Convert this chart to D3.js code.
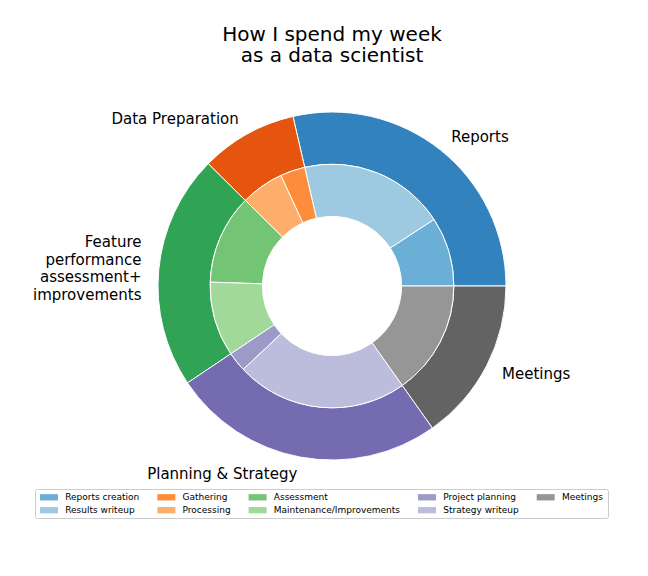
<!DOCTYPE html>
<html>
<head>
<meta charset="utf-8">
<script src="https://cdn.jsdelivr.net/npm/d3@7"></script>
<style>
  html, body { margin: 0; padding: 0; background: #fff; }
  svg { display: block; font-family: "DejaVu Sans", sans-serif; }
</style>
</head>
<body>
<svg id="chart" width="648" height="576"></svg>
<script>
// ---- data ----
const titleLines = ["How I spend my week", "as a data scientist"];
const categories = ["Reports", "Data Preparation", "Feature\nperformance\nassessment+\nimprovements", "Planning & Strategy", "Meetings"];
const categoryValues = [28.6, 9.0, 21.8, 25.4, 15.2];
const categoryColors = ["#3182bd", "#e6550d", "#31a354", "#756bb1", "#636363"];
const subcategories = ["Reports creation", "Results writeup", "Gathering", "Processing", "Assessment", "Maintenance/Improvements", "Project planning", "Strategy writeup", "Meetings"];
const subValues = [9.2, 19.4, 3.3, 5.7, 11.9, 9.9, 2.6, 22.8, 15.2];
const subColors = ["#6baed6", "#9ecae1", "#fd8d3c", "#fdae6b", "#74c476", "#a1d99b", "#9e9ac8", "#bcbddc", "#969696"];

// ---- layout ----
const svg = d3.select("#chart");
const cx = 332, cy = 286, R = 174;

// title (two separate lines)
svg.append("g").selectAll("text").data(titleLines).join("text")
  .attr("x", 332).attr("y", (d, i) => 41.3 + i * 20.8)
  .attr("text-anchor", "middle")
  .attr("font-size", 20).attr("fill", "#000")
  .text(d => d);

const g = svg.append("g").attr("transform", `translate(${cx},${cy})`);

// matplotlib style: start at 3 o'clock, counter-clockwise
const pie = d3.pie().sort(null).value(d => d)
  .startAngle(Math.PI / 2).endAngle(Math.PI / 2 - 2 * Math.PI);

const outerArc = d3.arc().innerRadius(R * 0.7).outerRadius(R);
const innerArc = d3.arc().innerRadius(R * 0.4).outerRadius(R * 0.7);

const outerData = pie(categoryValues);
const innerData = pie(subValues);

g.append("g").selectAll("path").data(outerData).join("path")
  .attr("d", outerArc)
  .attr("fill", (d, i) => categoryColors[i])
  .attr("stroke", "#fff").attr("stroke-width", 1);

g.append("g").selectAll("path").data(innerData).join("path")
  .attr("d", innerArc)
  .attr("fill", (d, i) => subColors[i])
  .attr("stroke", "#fff").attr("stroke-width", 1);

// outer labels at 1.1 R
const labelSize = 15, lineH = 17.5;
outerData.forEach((d, i) => {
  const a = (d.startAngle + d.endAngle) / 2; // d3 angle: 0 at top, clockwise
  const x = Math.sin(a) * R * 1.1;
  const y = -Math.cos(a) * R * 1.1;
  const lines = categories[i].split("\n");
  const t = g.append("text")
    .attr("font-size", labelSize).attr("fill", "#000")
    .attr("text-anchor", x < 0 ? "end" : "start");
  lines.forEach((ln, j) => {
    t.append("tspan")
      .attr("x", x)
      .attr("y", y + (j - (lines.length - 1) / 2) * lineH)
      .attr("dy", "0.35em")
      .text(ln);
  });
});

// legend (5 columns, column-major fill)
const fs = 9, ncol = 5, nrows = 2;
const handleLen = 18, handleH = 6.3, textPad = 7.2, colSpace = 18;
const legX = 35.5, legY = 489.5, legW = 573, legH = 29;
const legend = svg.append("g");
legend.append("rect")
  .attr("x", legX).attr("y", legY).attr("width", legW).attr("height", legH)
  .attr("rx", 2).attr("fill", "#fff").attr("stroke", "#cccccc").attr("stroke-width", 1);

// measure text widths
const measure = svg.append("text").attr("font-size", fs).attr("visibility", "hidden");
const widths = subcategories.map(s => { measure.text(s); return measure.node().getComputedTextLength(); });
measure.remove();

let colX = 40;
const rowY = [497.3, 510.2];
for (let c = 0; c < ncol; c++) {
  const idxs = d3.range(c * nrows, Math.min((c + 1) * nrows, subcategories.length));
  let maxW = 0;
  idxs.forEach((k, r) => {
    legend.append("rect")
      .attr("x", colX).attr("y", rowY[r] - handleH / 2)
      .attr("width", handleLen).attr("height", handleH)
      .attr("fill", subColors[k]);
    legend.append("text")
      .attr("x", colX + handleLen + textPad).attr("y", rowY[r])
      .attr("dy", "0.35em").attr("font-size", fs).attr("fill", "#000")
      .text(subcategories[k]);
    maxW = Math.max(maxW, widths[k]);
  });
  colX += handleLen + textPad + maxW + colSpace;
}
</script>
</body>
</html>
